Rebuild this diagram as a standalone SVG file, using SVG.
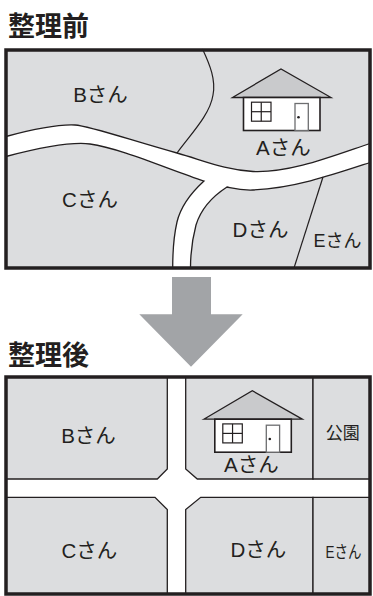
<svg xmlns="http://www.w3.org/2000/svg" xmlns:xlink="http://www.w3.org/1999/xlink" width="373" height="596" viewBox="0 0 373 596">
  <style>
    .title { font-family: "Noto Sans CJK JP", sans-serif; font-size: 27px; font-weight: bold; fill: #231f20; }
    .lbl { font-family: "Liberation Sans", "Noto Sans CJK JP", sans-serif; font-size: 20.5px; fill: #231f20; text-anchor: middle; }
    .frame { fill: none; stroke: #231f20; stroke-width: 3.5; }
    .edge { stroke: #231f20; stroke-width: 1.3; stroke-linejoin: miter; }
    .lot { fill: #dcdddf; }
    .road { fill: #ffffff; }
    .line { fill: none; stroke: #231f20; stroke-width: 1.2; }
  </style>
  <defs>
    <!-- house symbol, origin at the roof peak -->
    <g id="house">
      <polygon points="-48.5,28.5 0,0 50,28.5" fill="#c9cacc" stroke="#231f20" stroke-width="1.3" stroke-linejoin="miter"/>
      <rect x="-37.5" y="28.5" width="76.5" height="33" fill="#ffffff" stroke="#231f20" stroke-width="1.6"/>
      <rect x="-29.5" y="33.2" width="19.5" height="19" fill="none" stroke="#231f20" stroke-width="1.2"/>
      <line x1="-19.75" y1="33.2" x2="-19.75" y2="52.2" stroke="#231f20" stroke-width="1.2"/>
      <line x1="-29.5" y1="42.7" x2="-10" y2="42.7" stroke="#231f20" stroke-width="1.2"/>
      <rect x="14" y="34.5" width="13.3" height="27" fill="#ffffff" stroke="#6d6e70" stroke-width="1.3"/>
      <circle cx="17.5" cy="48.3" r="1.3" fill="#231f20"/>
    </g>
  </defs>

  <!-- before -->
  <text class="title" x="8" y="36">整理前</text>

  <g id="before-map">
    <rect class="lot" x="6" y="50" width="364" height="218"/>
    <g id="before-roads">
      <path class="road edge" d="M6,136.5 C30,130 55,124 75,125 C90,126 130,140 177,153 C205,161 225,170 253,171.5 C290,173 330,157 370,143.5 L370,162.5 C335,174 295,188 253,190 C240,190.5 232,188 227,187 C210,198 200,212 196,225 C192,240 190.5,255 190.5,268 L172.7,268 C172.7,250 174,235 177,222 C181,205 192,192 204,181 C170,170 120,148 90,144 C75,142 50,145 6,156.5 Z"/>
    </g>
    <g id="before-boundaries">
      <path class="line" d="M202.5,49 C210,65 216,80 213,95 C210,115 190,135 177,153"/>
      <path class="line" d="M323,177 L294,268"/>
    </g>
    <g id="before-house-a">
      <use xlink:href="#house" x="281" y="69"/>
    </g>
    <g id="before-b"><text class="lbl" x="100.5" y="101.7">Bさん</text></g>
    <g id="before-a"><text class="lbl" x="283.3" y="155">Aさん</text></g>
    <g id="before-c"><text class="lbl" x="90" y="207">Cさん</text></g>
    <g id="before-d"><text class="lbl" x="260.5" y="237">Dさん</text></g>
    <g id="before-e"><text class="lbl" x="337.5" y="246.5" style="font-size:18.5px" textLength="48" lengthAdjust="spacingAndGlyphs">Eさん</text></g>
    <rect class="frame" x="6" y="50" width="364" height="218"/>
  </g>

  <!-- arrow -->
  <g id="arrow">
    <polygon points="172,277 211,277 211,314.3 242.7,314.3 191,366.7 139.3,314.3 172,314.3" fill="#a2a4a7"/>
  </g>

  <!-- after -->
  <text class="title" x="8" y="364.5">整理後</text>

  <g id="after-map">
    <rect class="road" x="6" y="377" width="364" height="217"/>
    <g id="after-b">
      <path class="lot edge" d="M6,377 L167.3,377 L167.3,469 L157.3,479 L6,479 Z"/>
      <text class="lbl" x="88.5" y="443">Bさん</text>
    </g>
    <g id="after-a">
      <path class="lot edge" d="M185.7,377 L313,377 L313,479 L197.3,479 L185.7,469 Z"/>
      <use xlink:href="#house" x="252.3" y="390.7"/>
      <text class="lbl" x="251.3" y="471.7">Aさん</text>
    </g>
    <g id="after-park">
      <path class="lot edge" d="M313,377 L370,377 L370,479 L313,479 Z"/>
      <text class="lbl" x="342.7" y="439" style="font-size:17px">公園</text>
    </g>
    <g id="after-c">
      <path class="lot edge" d="M6,497.3 L155,497.3 L167.3,509.5 L167.3,594 L6,594 Z"/>
      <text class="lbl" x="89.3" y="558">Cさん</text>
    </g>
    <g id="after-d">
      <path class="lot edge" d="M200.7,497.3 L313,497.3 L313,594 L185.7,594 L185.7,509.5 Z"/>
      <text class="lbl" x="258.3" y="556.7">Dさん</text>
    </g>
    <g id="after-e">
      <path class="lot edge" d="M313,497.3 L370,497.3 L370,594 L313,594 Z"/>
      <text class="lbl" x="343.5" y="558" style="font-size:17px" textLength="36" lengthAdjust="spacingAndGlyphs">Eさん</text>
    </g>
    <rect class="frame" x="6" y="377" width="364" height="217"/>
  </g>
</svg>
